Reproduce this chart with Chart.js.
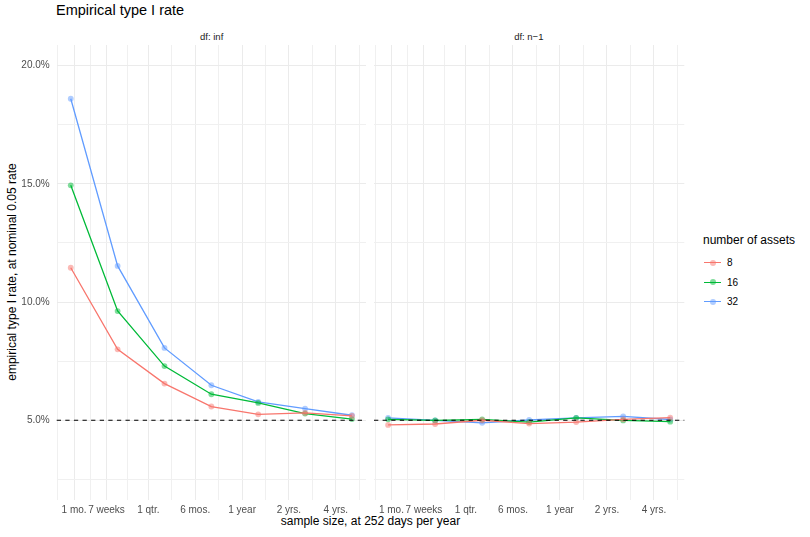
<!DOCTYPE html>
<html lang="en">
<head>
<meta charset="UTF-8">
<title>Empirical type I rate</title>
<style>
  body { margin: 0; background: #fff; font-family: "Liberation Sans", Arial, sans-serif; }
  #wrap { position: relative; width: 810px; height: 537px; overflow: hidden; }
  .txt { position: absolute; white-space: nowrap; }
  #title { left: 56px; top: 2px; font-size: 14.5px; color: #000; }
  .strip { top: 31px; font-size: 9.5px; color: #1a1a1a; text-align: center; }
  #xtitle { left: 56.7px; width: 627.6px; top: 514px; font-size: 12px; text-align: center; color: #000; }
  #ytitle { left: 12px; top: 272px; font-size: 12px; color: #000;
            transform: translate(-50%, -50%) rotate(-90deg); }
  canvas { position: absolute; }
  #legend { position: absolute; left: 703px; top: 233px; }
  #legend .head { font-size: 12px; color: #000; margin-bottom: 8px; }
  #legend .item { position: relative; height: 19.5px; font-size: 10px; color: #000; }
  #legend .key { position: absolute; left: 1px; top: 7px; width: 17px; height: 1.4px; }
  #legend .dot { position: absolute; left: 5.5px; top: -2.3px; width: 6px; height: 6px; border-radius: 50%; }
  #legend .lab { position: absolute; left: 24px; top: 2px; }
</style>
</head>
<body>
<div id="wrap">
  <div class="txt" id="title">Empirical type I rate</div>
  <div class="txt strip" style="left:56.7px;width:310px">df: inf</div>
  <div class="txt strip" style="left:373.3px;width:311px">df: n−1</div>
  <div class="txt" id="ytitle">empirical type I rate, at nominal 0.05 rate</div>
  <div class="txt" id="xtitle">sample size, at 252 days per year</div>
  <canvas id="panelInf" width="370" height="482" style="left:0;top:40px"></canvas>
  <canvas id="panelN1" width="320" height="482" style="left:370px;top:40px"></canvas>
  <div id="legend"></div>
</div>

<script src="https://cdn.jsdelivr.net/npm/chart.js"></script>
<script>
// sample sizes (days) and axis breaks
var sampleDays = [20, 40, 80, 160, 320, 640, 1280];
var breakDays = [21, 252 * 7 / 52, 63, 126, 252, 504, 1008];
var breakLabels = ['1 mo.', '7 weeks', '1 qtr.', '6 mos.', '1 year', '2 yrs.', '4 yrs.'];

var assetCounts = ['8', '16', '32'];
var seriesColors = ['#F8766D', '#00BA38', '#619CFF'];
var pointColors = ['rgba(248,118,109,0.5)', 'rgba(0,186,56,0.5)', 'rgba(97,156,255,0.5)'];

// empirical type I rate, percent -- df: inf
var dfInf8  = [11.45, 8.00, 6.55, 5.58, 5.25, 5.31, 5.18];
var dfInf16 = [14.94, 9.62, 7.29, 6.10, 5.73, 5.28, 5.05];
var dfInf32 = [18.60, 11.53, 8.06, 6.48, 5.78, 5.49, 5.21];

// df: n-1
var dfN1_8  = [4.80, 4.84, 5.00, 4.86, 4.92, 5.04, 5.11];
var dfN1_16 = [5.04, 4.99, 5.03, 4.92, 5.10, 4.99, 4.94];
var dfN1_32 = [5.10, 4.99, 4.89, 5.01, 5.10, 5.16, 5.03];

var yTicks = [2.5, 5, 7.5, 10, 12.5, 15, 17.5, 20];
var yMin = 1.625, yMax = 20.875;
var nominalRate = 5;

// minor breaks: geometric midpoints between the major ones, one more at each end
var minorDays = [];
for (var i = 0; i < breakDays.length - 1; i++) {
  minorDays.push(Math.sqrt(breakDays[i] * breakDays[i + 1]));
}
minorDays.unshift(breakDays[0] * breakDays[0] / minorDays[0]);
minorDays.push(breakDays[breakDays.length - 1] * breakDays[breakDays.length - 1] / minorDays[minorDays.length - 1]);

var logSpan = Math.log2(sampleDays[sampleDays.length - 1] / sampleDays[0]);
var xMin = sampleDays[0] / Math.pow(2, logSpan * 0.05);
var xMax = sampleDays[sampleDays.length - 1] * Math.pow(2, logSpan * 0.05);

function isMajorX(v) {
  return breakDays.some(function (b) { return Math.abs(b - v) < 1e-6; });
}
function isMajorY(v) {
  return Math.abs(v / 5 - Math.round(v / 5)) < 1e-6;
}

var nominalLine = {
  id: 'nominalLine',
  afterDatasetsDraw: function (chart) {
    var a = chart.chartArea, c = chart.ctx;
    var y = chart.scales.y.getPixelForValue(nominalRate);
    c.save();
    c.strokeStyle = '#000';
    c.lineWidth = 1.1;
    c.setLineDash([4.3, 4.3]);
    c.beginPath();
    c.moveTo(a.left, y);
    c.lineTo(a.right, y);
    c.stroke();
    c.restore();
  }
};

function makeSets(list) {
  return list.map(function (vals, k) {
    return {
      label: assetCounts[k],
      data: vals.map(function (v, j) { return { x: sampleDays[j], y: v }; }),
      borderColor: seriesColors[k],
      borderWidth: 1.3,
      pointRadius: 2.9,
      pointBorderWidth: 0,
      pointBackgroundColor: pointColors[k],
      tension: 0
    };
  });
}

Chart.defaults.font.family = '"Liberation Sans", Arial, sans-serif';
Chart.defaults.font.size = 10;
Chart.defaults.color = '#4D4D4D';

function gridColor(test) {
  return function (ctx) { return ctx.tick && test(ctx.tick.value) ? '#EBEBEB' : '#F0F0F0'; };
}

function makePanel(id, sets, axisWidth, padRight, showY) {
  return new Chart(document.getElementById(id), {
    type: 'line',
    data: { datasets: makeSets(sets) },
    options: {
      responsive: false,
      animation: false,
      layout: { padding: { top: 5, right: padRight, left: 0, bottom: 0 } },
      plugins: { legend: { display: false }, tooltip: { enabled: false } },
      scales: {
        x: {
          type: 'logarithmic',
          min: xMin,
          max: xMax,
          afterBuildTicks: function (s) {
            s.ticks = breakDays.concat(minorDays).sort(function (a, b) { return a - b; })
              .map(function (v) { return { value: v }; });
          },
          afterFit: function (s) {
            s.height = 22;
            s.paddingLeft = 0;
            s.paddingRight = 0;
          },
          ticks: {
            autoSkip: false,
            maxRotation: 0,
            padding: 4,
            callback: function (v) {
              var k = breakDays.findIndex(function (b) { return Math.abs(b - v) < 1e-6; });
              return k >= 0 ? breakLabels[k] : '';
            }
          },
          grid: { drawTicks: false, color: gridColor(isMajorX), lineWidth: 1 },
          border: { display: false }
        },
        y: {
          min: yMin,
          max: yMax,
          afterBuildTicks: function (s) {
            s.ticks = yTicks.map(function (v) { return { value: v }; });
          },
          afterFit: function (s) {
            s.width = axisWidth;
            s.paddingTop = 0;
            s.paddingBottom = 0;
          },
          ticks: {
            display: showY,
            padding: 7,
            callback: function (v) { return isMajorY(v) ? v.toFixed(1) + '%' : ''; }
          },
          grid: { drawTicks: false, color: gridColor(isMajorY), lineWidth: 1 },
          border: { display: false }
        }
      }
    },
    plugins: [nominalLine]
  });
}

makePanel('panelInf', [dfInf8, dfInf16, dfInf32], 56.7, 3.3, true);
makePanel('panelN1', [dfN1_8, dfN1_16, dfN1_32], 3.3, 5.7, false);

// legend
var legend = document.getElementById('legend');
var html = '<div class="head">number of assets</div>';
assetCounts.forEach(function (name, k) {
  html += '<div class="item"><div class="key" style="background:' + seriesColors[k] + '">' +
    '<div class="dot" style="background:' + pointColors[k] + '"></div></div>' +
    '<span class="lab">' + name + '</span></div>';
});
legend.innerHTML = html;
</script>
</body>
</html>
